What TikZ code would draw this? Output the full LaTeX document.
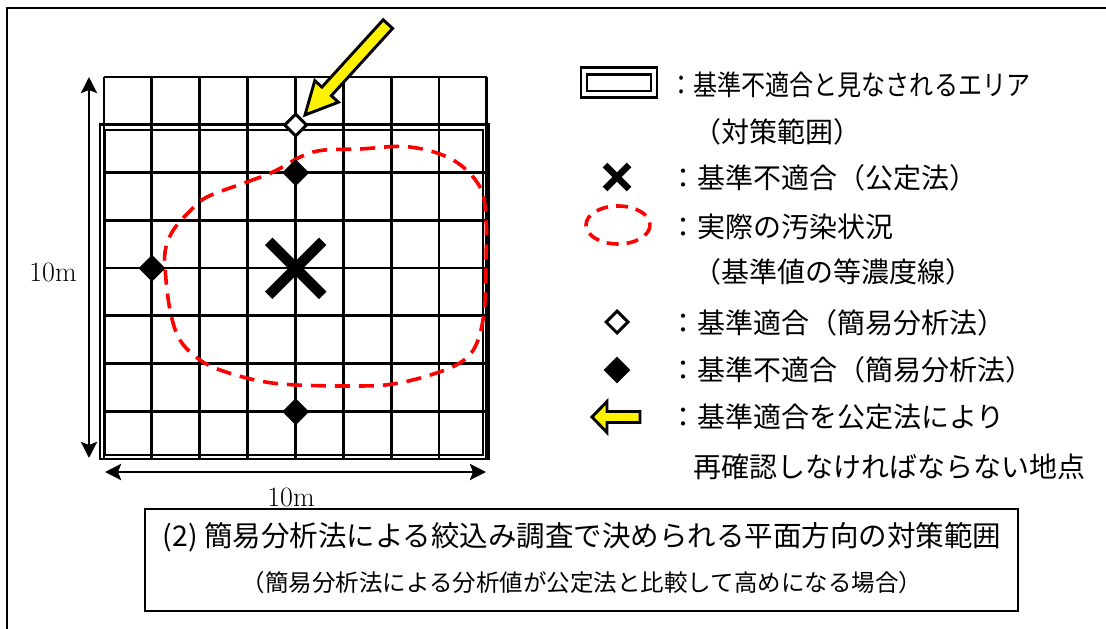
\documentclass[tikz,border=0pt]{standalone}
\usepackage{fontspec}
\usetikzlibrary{arrows.meta,shapes.geometric,calc}
\newfontfamily\jp{Noto Sans CJK JP}
\tikzset{
  gridline/.style={line width=2.9pt},
  dblrect/.style={line width=2.9pt},
  dimarrow/.style={line width=2.9pt,{Stealth[length=16pt,width=16pt,inset=3pt]}-{Stealth[length=16pt,width=16pt,inset=3pt]}},
  reddash/.style={draw=red,line width=3.6pt,dash pattern=on 15pt off 9pt},
  fulldia/.style={diamond,fill=black,inner sep=0pt,minimum width=27pt,minimum height=27pt},
  opendia/.style={diamond,draw=black,fill=white,line width=3pt,inner sep=0pt,minimum width=23pt,minimum height=23pt},
  yarrow/.style={fill=yellow,draw=black,line width=2.9pt,line join=miter},
  legtext/.style={anchor=west,inner sep=0pt,font=\jp\fontsize{28}{30}\selectfont},
  dimtext/.style={inner sep=0pt,font=\fontsize{28}{30}\selectfont},
}
\begin{document}
\begin{tikzpicture}[x=1pt,y=-1pt]
\useasboundingbox (0,0) rectangle (1106,629);
% outer frame (partial)
\draw[line width=2.4pt] (7,629) -- (7,8) -- (1106,8);
% grid
\foreach \i in {0,...,8}{
  \draw[gridline] ({104+47.85*\i},77) -- ({104+47.85*\i},459);
  \draw[gridline] (104,{77+47.75*\i}) -- (487,{77+47.75*\i});
}
% double rectangle
\draw[dblrect] (100,124.5) rectangle (488.5,459);
\draw[dblrect] (105,130) rectangle (483,455);
% red contour
\draw[reddash] plot[smooth cycle,tension=0.6] coordinates {
 (207,197) (247,182) (273,172) (313,152) (360,149) (410,147) (453,160) (480,187)
 (486,220) (486,260) (484,313) (475,347) (458,364) (427,376) (393,384) (360,386)
 (297,385) (260,381) (223,371) (200,360) (180,340) (170,310) (165,267) (166,247)
 (174,229) (189,212)};
% markers
\node[opendia] (o1) at (295.7,125) {};
\node[fulldia] (f1) at (295.7,172.7) {};
\node[fulldia] (f2) at (152,268.3) {};
\node[fulldia] (f3) at (295.7,411.7) {};
\node[inner sep=0pt] (bx) at (295.7,268.3) {};
\draw[line width=10.5pt] ($(bx)+(-27,-27)$) -- ($(bx)+(27,27)$);
\draw[line width=10.5pt] ($(bx)+(-27,27)$) -- ($(bx)+(27,-27)$);
% yellow arrow
\draw[yarrow] (305,115) -- (338.4,102.2) -- (331.3,95.7) -- (392.6,28.4)
  -- (383.2,19.8) -- (321.9,87.1) -- (314.8,80.6) -- cycle;
% dimension arrows
\coordinate (vt) at (89,77);
\coordinate (vb) at (89,458);
\coordinate (hl) at (105,472);
\coordinate (hr) at (486,472);
\draw[dimarrow] (vt) -- (vb);
\draw[dimarrow] (hl) -- (hr);
\node[dimtext] (d1) at (53,272) {10m};
\node[dimtext] (d2) at (291,497) {10m};
% legend icons
\draw[dblrect] (581,67.5) rectangle (657,97.5);
\draw[dblrect] (587,74.5) rectangle (651,91);
\node[inner sep=0pt] (lx) at (617,177) {};
\draw[line width=6.5pt] ($(lx)+(-12,-12)$) -- ($(lx)+(12,12)$);
\draw[line width=6.5pt] ($(lx)+(-12,12)$) -- ($(lx)+(12,-12)$);
\draw[reddash,dash pattern=on 12pt off 8pt] (618,225) ellipse [x radius=32, y radius=19];
\node[opendia] (lo) at (617,322) {};
\node[fulldia] (lf) at (617,370) {};
\draw[yarrow] (592,417) -- (607,401.5) -- (607,411.5) -- (640,411.5) -- (640,422.5)
  -- (607,422.5) -- (607,432.5) -- cycle;
% legend texts
\node[legtext,xscale=0.86] (t1) at (669,85) {：基準不適合と見なされるエリア};
\node[legtext] (t2) at (693,132) {（対策範囲）};
\node[legtext] (t3) at (669,178) {：基準不適合（公定法）};
\node[legtext] (t4) at (669,227) {：実際の汚染状況};
\node[legtext] (t5) at (693,272) {（基準値の等濃度線）};
\node[legtext] (t6) at (669,323) {：基準適合（簡易分析法）};
\node[legtext] (t7) at (669,370) {：基準不適合（簡易分析法）};
\node[legtext] (t8) at (669,417) {：基準適合を公定法により};
\node[legtext] (t9) at (693,467) {再確認しなければならない地点};
% bottom caption box
\draw[line width=2.4pt] (145,509) rectangle (1018,611);
\node[inner sep=0pt,font=\jp\fontsize{28.5}{30}\selectfont] (cap1) at (582,537) {(2) 簡易分析法による絞込み調査で決められる平面方向の対策範囲};
\node[inner sep=0pt,font=\jp\fontsize{23.5}{26}\selectfont] (cap2) at (582,583) {（簡易分析法による分析値が公定法と比較して高めになる場合）};
\end{tikzpicture}
\end{document}
